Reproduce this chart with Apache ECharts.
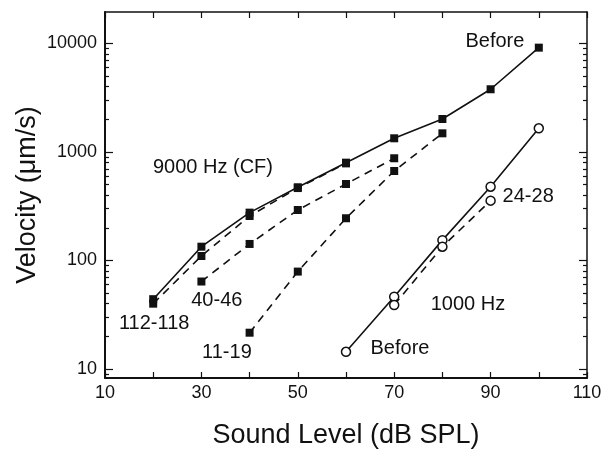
<!DOCTYPE html>
<html>
<head>
<meta charset="utf-8">
<script src="https://cdn.jsdelivr.net/npm/echarts@6/dist/echarts.min.js"></script>
<style>
  html, body { margin: 0; padding: 0; background: #fff; }
  #main { width: 601px; height: 450px; }
</style>
</head>
<body>
<div id="main"></div>
<script>
// sound level (dB SPL) and velocity (um/s)
var cfBeforeX = [20, 30, 40, 50, 60, 70, 80, 90, 100];
var cfBeforeY = [44, 134, 276, 473, 797, 1337, 2014, 3784, 9150];
var cf112X = [20, 30, 40, 50, 60];
var cf112Y = [40, 110, 257, 465, 785];
var cf40X = [30, 40, 50, 60, 70];
var cf40Y = [64, 142, 292, 507, 875];
var cf11X = [40, 50, 60, 70, 80];
var cf11Y = [21.6, 79, 245, 668, 1486];
var lowBeforeX = [60, 70, 80, 90, 100];
var lowBeforeY = [14.4, 46.4, 154, 479, 1653];
var low24X = [70, 80, 90];
var low24Y = [38.9, 134, 356];

// annotations: text, x, y (data coords)
var notes = [
    ['Before', 90.9, 10330],
    ['9000 Hz (CF)', 32.4, 713],
    ['112-118', 20.2, 26],
    ['40-46', 33.2, 43.2],
    ['11-19', 35.3, 14.3],
    ['24-28', 97.8, 385],
    ['1000 Hz', 85.3, 39.7],
    ['Before', 71.2, 15.6]
];

var majorTicks = [10, 100, 1000, 10000];
var minorTicks = [9, 20, 30, 40, 50, 60, 70, 80, 90, 200, 300, 400, 500, 600, 700, 800, 900,
    2000, 3000, 4000, 5000, 6000, 7000, 8000, 9000];

var yMin = 8.26, yMax = 19500;
var font = '"Liberation Sans", Arial, Helvetica, sans-serif';

function pairs(xs, ys) {
    return xs.map(function (x, i) { return [x, ys[i]]; });
}

function yAx(pos, ticks, len, showLabel, showLine) {
    return {
        type: 'log', position: pos, min: yMin, max: yMax,
        axisLine: { show: showLine, lineStyle: { color: '#111', width: pos === 'left' ? 2 : 1.5 } },
        axisTick: { show: true, inside: true, length: len, customValues: ticks, lineStyle: { color: '#111', width: 1.2 } },
        axisLabel: {
            show: showLabel, customValues: majorTicks, color: '#111', fontSize: 18, fontFamily: font, margin: 8,
            formatter: function (v) { return String(Math.round(v)); }
        },
        splitLine: { show: false }
    };
}

function lineSeries(name, data, dashed, open) {
    return {
        name: name, type: 'line', xAxisIndex: 0, yAxisIndex: 1,
        data: data,
        symbol: open ? 'circle' : 'rect',
        symbolSize: open ? 9 : 8,
        showAllSymbol: true,
        lineStyle: { color: '#111', width: 1.6, type: dashed ? [8, 6] : 'solid' },
        itemStyle: { color: open ? '#fff' : '#111', borderColor: '#111', borderWidth: open ? 1.5 : 0 },
        emphasis: { disabled: true },
        z: open ? 3 : 2
    };
}

var chart = echarts.init(document.getElementById('main'));
chart.setOption({
    animation: false,
    backgroundColor: '#fff',
    grid: { left: 105, right: 14, top: 12, bottom: 72, outerBoundsMode: 'none', containLabel: false },
    xAxis: [{
        type: 'value', position: 'bottom', min: 10, max: 110, interval: 10,
        name: 'Sound Level (dB SPL)', nameLocation: 'middle', nameGap: 44,
        nameTextStyle: { color: '#111', fontSize: 27, fontFamily: font },
        axisLine: { lineStyle: { color: '#111', width: 2 } },
        axisTick: { inside: true, length: 6, lineStyle: { color: '#111', width: 1.2 } },
        axisLabel: {
            color: '#111', fontSize: 18, fontFamily: font, margin: 6,
            formatter: function (v) { return (v - 10) % 20 === 0 ? String(v) : ''; }
        },
        splitLine: { show: false }
    }, {
        type: 'value', position: 'top', min: 10, max: 110, interval: 10,
        axisLine: { lineStyle: { color: '#111', width: 1.5 } },
        axisTick: { inside: true, length: 6, lineStyle: { color: '#111', width: 1.2 } },
        axisLabel: { show: false },
        splitLine: { show: false }
    }],
    yAxis: [
        yAx('left', minorTicks, 4, false, false),
        Object.assign(yAx('left', majorTicks, 8, true, true), {
            name: 'Velocity (\u03bcm/s)', nameLocation: 'middle', nameGap: 64, nameRotate: 90,
            nameMoveOverlap: false,
            nameTextStyle: { color: '#111', fontSize: 27, fontFamily: font }
        }),
        yAx('right', minorTicks, 4, false, false),
        yAx('right', majorTicks, 8, false, true)
    ],
    series: [
        lineSeries('9000 Before', pairs(cfBeforeX, cfBeforeY), false, false),
        lineSeries('112-118', pairs(cf112X, cf112Y), true, false),
        lineSeries('40-46', pairs(cf40X, cf40Y), true, false),
        lineSeries('11-19', pairs(cf11X, cf11Y), true, false),
        lineSeries('1000 Before', pairs(lowBeforeX, lowBeforeY), false, true),
        lineSeries('24-28', pairs(low24X, low24Y), true, true),
        {
            type: 'scatter', xAxisIndex: 0, yAxisIndex: 1, silent: true,
            symbolSize: 0,
            itemStyle: { opacity: 1 },
            data: notes.map(function (n) { return { value: [n[1], n[2]], name: n[0] }; }),
            label: {
                show: true, position: 'inside', formatter: '{b}',
                color: '#111', fontFamily: font,
                fontSize: 20
            },
            z: 5
        }
    ]
});
</script>
</body>
</html>
